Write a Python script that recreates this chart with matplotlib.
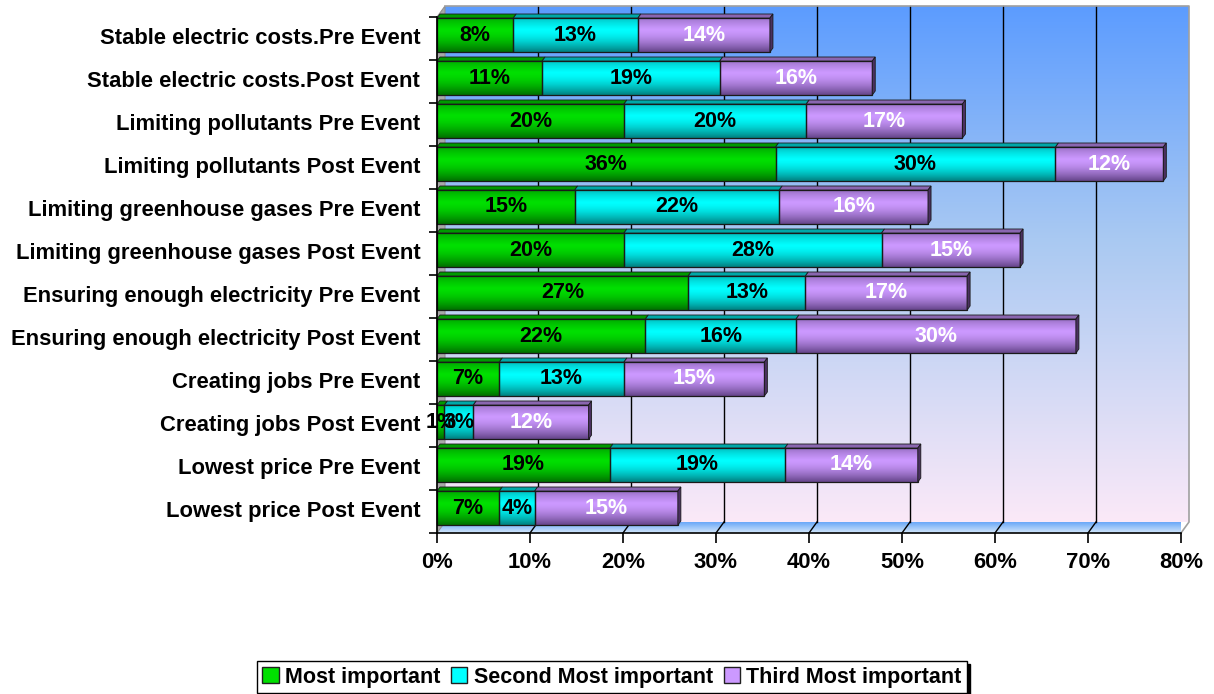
import numpy as np
import matplotlib
matplotlib.use("Agg")
import matplotlib.pyplot as plt
from matplotlib.patches import Polygon, Patch, Rectangle
from matplotlib.colors import to_rgb

# ---------------- data ----------------
categories = [
    "Stable electric costs.Pre Event",
    "Stable electric costs.Post Event",
    "Limiting pollutants Pre Event",
    "Limiting pollutants Post Event",
    "Limiting greenhouse gases Pre Event",
    "Limiting greenhouse gases Post Event",
    "Ensuring enough electricity Pre Event",
    "Ensuring enough electricity Post Event",
    "Creating jobs Pre Event",
    "Creating jobs Post Event",
    "Lowest price Pre Event",
    "Lowest price Post Event",
]
most_important = [8.2, 11.3, 20.1, 36.4, 14.8, 20.1, 27.0, 22.4, 6.7, 0.8, 18.6, 6.7]
second_most = [13.4, 19.1, 19.6, 30.1, 22.0, 27.7, 12.6, 16.2, 13.4, 3.1, 18.8, 3.8]
third_most = [14.2, 16.4, 16.8, 11.6, 16.0, 14.9, 17.4, 30.1, 15.1, 12.4, 14.3, 15.4]
series_names = ["Most important", "Second Most important", "Third Most important"]
x_ticks = [0, 10, 20, 30, 40, 50, 60, 70, 80]
x_ticklabels = ["0%", "10%", "20%", "30%", "40%", "50%", "60%", "70%", "80%"]

# ---------------- style ----------------
FONT = "Liberation Sans"
plt.rcParams["font.family"] = [FONT, "DejaVu Sans"]
plt.rcParams["font.weight"] = "bold"

main_cols = ["#00e000", "#00ffff", "#cc99ff"]
dark_cols = ["#007000", "#008080", "#65458a"]
top_cols = ["#009a00", "#00a8a8", "#8a66b0"]
side_col = "#4a3060"
text_cols = ["black", "black", "white"]

W, H = 1214, 694
fig = plt.figure(figsize=(W / 100, H / 100), dpi=100)
fig.patch.set_facecolor("white")

x0p, x1p, y0p, y1p = 437, 1181, 17, 533
ax = fig.add_axes([x0p / W, 1 - y1p / H, (x1p - x0p) / W, (y1p - y0p) / H])
n = len(categories)
XMAX = 80
ax.set_xlim(0, XMAX)
ax.set_ylim(-0.5, n - 0.5)
ax.set_autoscale_on(False)
ax.patch.set_alpha(0)

pxx = XMAX / (x1p - x0p)
pxy = n / (y1p - y0p)

# wall depth offsets
wdx, wdy = 8 * pxx, 11 * pxy
ybot, ytop = -0.5, n - 0.5

# back wall gradient
grad = np.linspace(0, 1, 256)
c_top = np.array(to_rgb("#5c9cff"))
c_mid = np.array(to_rgb("#a9c9f2"))
c_bot = np.array(to_rgb("#fbe9f8"))
img = np.zeros((256, 1, 3))
for i, t in enumerate(grad):
    if t < 0.45:
        f = t / 0.45
        img[i, 0] = c_top * (1 - f) + c_mid * f
    else:
        f = (t - 0.45) / 0.55
        img[i, 0] = c_mid * (1 - f) + c_bot * f
ax.imshow(img, extent=[wdx, XMAX + wdx, ybot + wdy, ytop + wdy], aspect="auto",
          origin="upper", interpolation="bilinear", zorder=0, clip_on=False)

# floor
floor_poly = Polygon([(0, ybot), (XMAX, ybot), (XMAX + wdx, ybot + wdy), (wdx, ybot + wdy)],
                     closed=True, facecolor="none", edgecolor="none", transform=ax.transData)
ax.add_patch(floor_poly)
fimg = np.zeros((32, 1, 3))
fa, fb = np.array(to_rgb("#6aa8f8")), np.array(to_rgb("#d2e6fa"))
for i in range(32):
    f = i / 31
    fimg[i, 0] = fa * (1 - f) + fb * f
fim = ax.imshow(fimg, extent=[0, XMAX + wdx, ybot, ybot + wdy], aspect="auto", origin="upper",
                interpolation="bilinear", zorder=0.5, clip_on=True)
fim.set_clip_path(floor_poly)

# left wall
ax.add_patch(Polygon([(0, ybot), (0, ytop), (wdx, ytop + wdy), (wdx, ybot + wdy)], closed=True,
                     facecolor="#a8a8a8", edgecolor="#909090", lw=0.8, zorder=0.6, clip_on=False))

# gridlines
for xv in x_ticks[1:-1]:
    ax.plot([xv + wdx, xv + wdx], [ybot + wdy, ytop + wdy], color="black", lw=1.0, zorder=1, clip_on=False)
    ax.plot([xv + wdx, xv], [ybot + wdy, ybot], color="black", lw=1.0, zorder=1, clip_on=False)

# wall border
ax.plot([wdx, XMAX + wdx, XMAX + wdx, XMAX], [ytop + wdy, ytop + wdy, ybot + wdy, ybot],
        color="#a0a0a0", lw=1.2, zorder=1, clip_on=False)

# ---------------- bars ----------------
bh = 34 * pxy
shift = 3.5 * pxy
tdx, tdy = 3 * pxx, 4 * pxy


def shade_img(cmain, cdark, npx=64):
    cm = np.array(to_rgb(cmain))
    cd = np.array(to_rgb(cdark))
    out = np.zeros((npx, 1, 3))
    for i in range(npx):
        t = i / (npx - 1)
        if t < 0.35:
            f = (t / 0.35) ** 0.7
            c = cd * 0.55 + cm * 0.45
            c = c * (1 - f) + cm * f
        else:
            f = ((t - 0.35) / 0.65) ** 1.6
            c = cm * (1 - f) + cd * f
        out[i, 0] = c
    return out


shades = [shade_img(main_cols[k], dark_cols[k]) for k in range(3)]
series = [most_important, second_most, third_most]

for i in range(n):
    yc = (n - 1 - i) + shift
    yb, yt = yc - bh / 2, yc + bh / 2
    left = 0.0
    zb = 3 + i * 0.01
    for k in range(3):
        v = series[k][i]
        right = left + v
        ax.imshow(shades[k], extent=[left, right, yb, yt], aspect="auto", origin="upper",
                  interpolation="bilinear", zorder=zb, clip_on=False)
        ax.add_patch(Rectangle((left, yb), v, bh, facecolor="none", edgecolor="#1a1a1a",
                               lw=0.9, zorder=zb + 0.001, clip_on=False))
        ax.add_patch(Polygon([(left, yt), (left + tdx, yt + tdy), (right + tdx, yt + tdy), (right, yt)],
                             closed=True, facecolor=top_cols[k], edgecolor="#1a1a1a", lw=0.6,
                             zorder=zb + 0.001, clip_on=False))
        if k == 2:
            ax.add_patch(Polygon([(right, yb), (right + tdx, yb + tdy), (right + tdx, yt + tdy), (right, yt)],
                                 closed=True, facecolor=side_col, edgecolor="#1a1a1a", lw=0.6,
                                 zorder=zb + 0.001, clip_on=False))
        ax.text((left + right) / 2, yc, f"{v:.0f}%", ha="center", va="center",
                fontsize=15.5, fontweight="bold", color=text_cols[k], zorder=zb + 0.005,
                family=[FONT, "DejaVu Sans"])
        left = right

# ---------------- axes ----------------
for s in ["top", "right"]:
    ax.spines[s].set_visible(False)
for s in ["left", "bottom"]:
    ax.spines[s].set_color("black")
    ax.spines[s].set_linewidth(1.2)
    ax.spines[s].set_zorder(10)

ax.set_xticks(x_ticks)
ax.set_xticklabels(x_ticklabels, fontsize=15.8, fontweight="bold")
ax.tick_params(axis="x", length=7.5, width=1.2, pad=6, color="black")

ax.set_yticks(np.arange(n) + 0.05)
ax.set_yticklabels(categories[::-1], fontsize=15.8, fontweight="bold")
ax.tick_params(axis="y", which="major", length=0, pad=12)
ax.set_yticks(np.arange(n + 1) - 0.5, minor=True)
ax.tick_params(axis="y", which="minor", length=5.5, width=1.2, color="black")

# ---------------- legend ----------------
handles = [Patch(facecolor=main_cols[k], edgecolor="#202020", lw=1.0) for k in range(3)]
leg = fig.legend(handles, series_names, loc="center", bbox_to_anchor=(612 / W, 1 - 677 / H),
                 ncol=3, frameon=True, fancybox=False,
                 prop={"family": [FONT, "DejaVu Sans"], "weight": "bold", "size": 15.5},
                 handlelength=0.75, handleheight=0.75, handletextpad=0.3, columnspacing=0.5,
                 borderpad=0.25, borderaxespad=0,
                 shadow={"ox": 2, "oy": -2, "color": "black", "alpha": 1})
leg.get_frame().set_edgecolor("black")
leg.get_frame().set_linewidth(1.0)

fig.savefig("out.png", dpi=100, facecolor="white")
